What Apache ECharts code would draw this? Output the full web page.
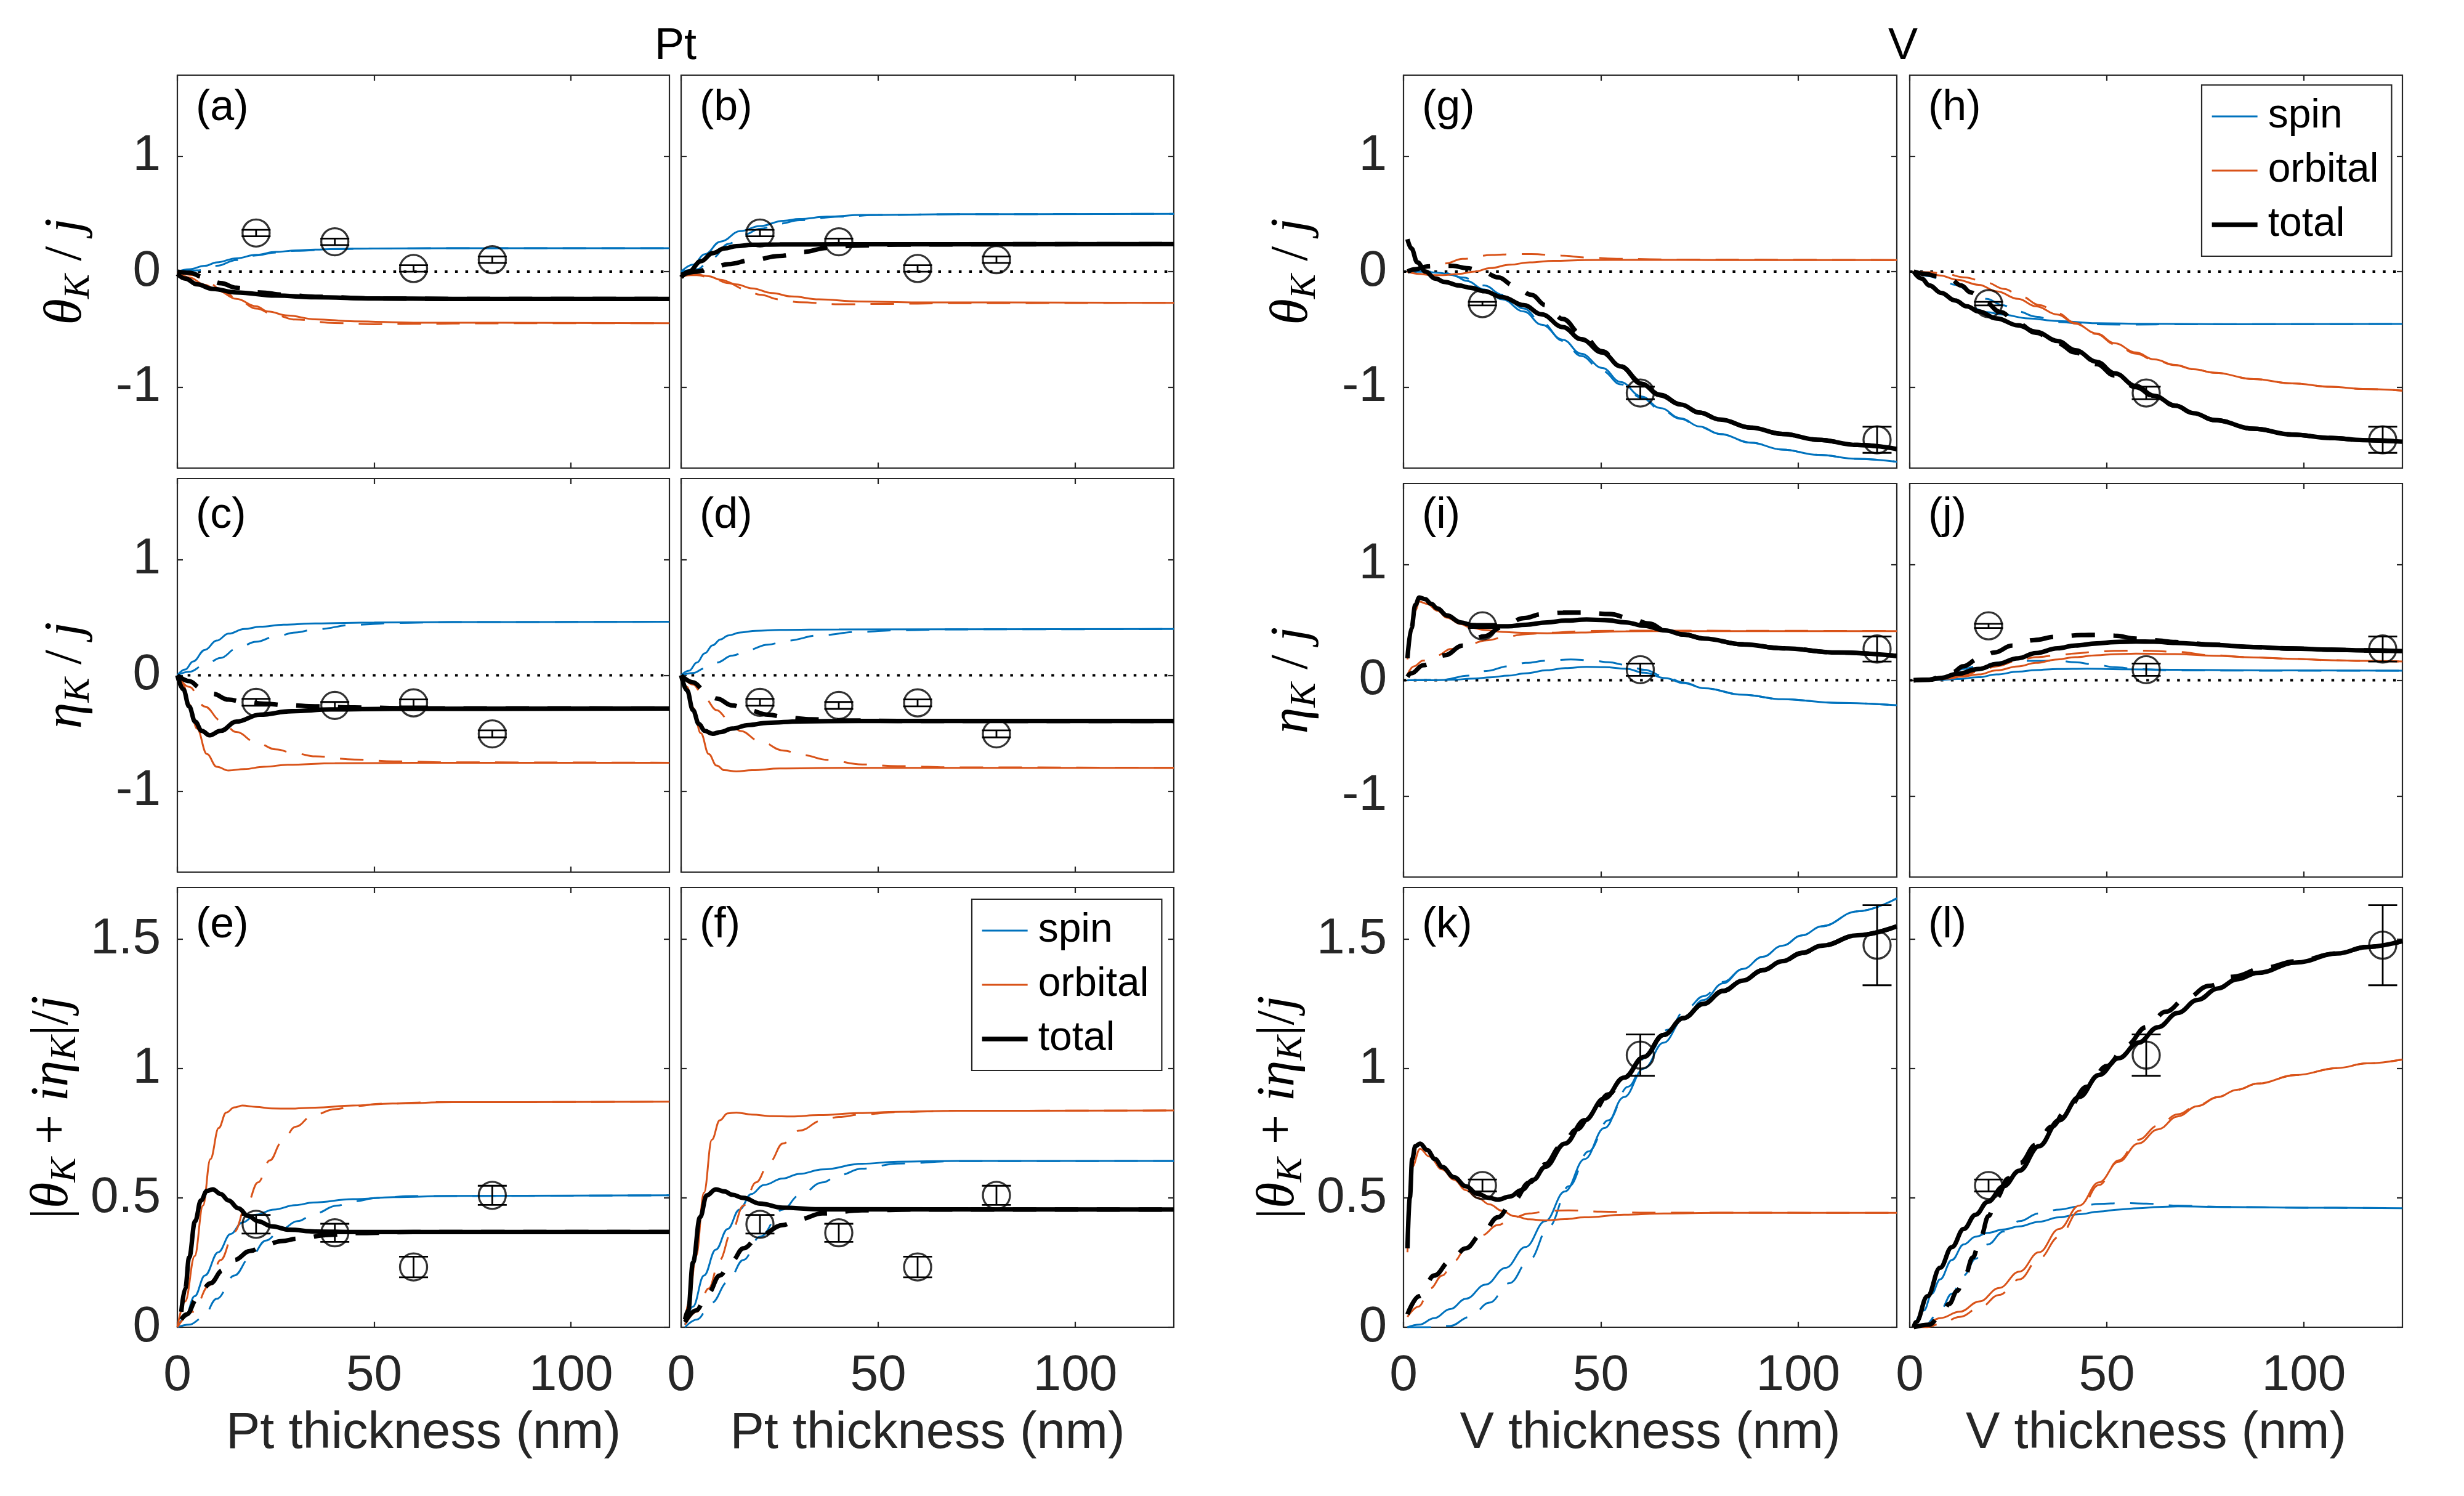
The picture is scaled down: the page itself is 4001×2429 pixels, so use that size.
<!DOCTYPE html>
<html><head><meta charset="utf-8">
<script src="https://cdn.jsdelivr.net/npm/echarts@6/dist/echarts.min.js"></script>
<style>html,body{margin:0;padding:0;background:#fff}#c{width:4001px;height:2429px}</style>
</head><body><div id="c"></div>
<script>
// ---------------- tick labels / axis ranges ----------------
const xTicks = [0, 50, 100];
const ySignedTicks = [-1, 0, 1];
const yAbsTicks = [0, 0.5, 1, 1.5];
const zeroLine = [[0, 0], [125, 0]];

// ---------------- measured data (circles with error bars) ----------------
const ptX = [20, 40, 60, 80];
const ptTheta = [0.334, 0.258, 0.027, 0.103];
const ptThetaErr = [0.028, 0.028, 0.028, 0.028];
const ptEta = [-0.233, -0.26, -0.238, -0.506];
const ptEtaErr = [0.03, 0.03, 0.03, 0.03];
const ptAbs = [0.398, 0.365, 0.233, 0.51];
const ptAbsErr = [0.036, 0.035, 0.04, 0.037];
const vX = [20, 60, 120];
const vTheta = [-0.277, -1.05, -1.455];
const vThetaErr = [0.015, 0.054, 0.113];
const vEta = [0.47, 0.091, 0.27];
const vEtaErr = [0.018, 0.053, 0.108];
const vAbs = [0.548, 1.052, 1.477];
const vAbsErr = [0.023, 0.08, 0.155];

// ---------------- model curves ----------------
// (a)
const a_spin = [[0,0],[3,0.02],[7,0.05],[10,0.08],[15,0.115],[20,0.145],[25,0.17],[30,0.183],[35,0.19],[40,0.196],[50,0.2],[70,0.202],[125,0.202]];
const a_spinD = [[0,0],[5,0.01],[10,0.05],[15,0.1],[20,0.14],[25,0.165],[30,0.18],[40,0.195],[50,0.2],[70,0.203],[125,0.202]];
const a_orb = [[0,0],[3,-0.05],[7,-0.114],[10,-0.16],[15,-0.236],[20,-0.3],[23,-0.345],[28,-0.38],[35,-0.413],[45,-0.43],[60,-0.442],[125,-0.446]];
const a_orbD = [[0,0],[4,-0.03],[8,-0.1],[12,-0.18],[16,-0.26],[20,-0.32],[25,-0.38],[30,-0.415],[40,-0.445],[50,-0.455],[60,-0.452],[80,-0.447],[125,-0.446]];
const a_tot = [[0,-0.02],[2,-0.06],[5,-0.11],[9,-0.15],[15,-0.18],[25,-0.207],[35,-0.222],[50,-0.232],[70,-0.236],[125,-0.237]];
const a_totD = [[0,0],[3,-0.01],[7,-0.05],[11,-0.1],[15,-0.14],[21,-0.18],[27,-0.2],[35,-0.218],[50,-0.232],[70,-0.236],[125,-0.237]];
// (b)
const b_spin = [[0,0],[3,0.06],[6,0.15],[10,0.26],[15,0.35],[20,0.394],[26,0.44],[30,0.455],[37,0.475],[46,0.49],[70,0.497],[125,0.5]];
const b_spinD = [[0,0],[4,0.02],[8,0.12],[12,0.24],[16,0.32],[20,0.37],[25,0.415],[30,0.445],[40,0.475],[50,0.49],[70,0.497],[125,0.5]];
const b_orb = [[0,-0.05],[2,-0.03],[4,-0.025],[7,-0.04],[10,-0.07],[14,-0.11],[18,-0.145],[23,-0.185],[28,-0.215],[35,-0.24],[45,-0.258],[60,-0.266],[125,-0.27]];
const b_orbD = [[0,-0.03],[4,-0.03],[8,-0.06],[12,-0.1],[16,-0.15],[20,-0.2],[25,-0.24],[30,-0.265],[40,-0.283],[50,-0.28],[70,-0.273],[125,-0.27]];
const b_tot = [[0,-0.05],[2,0.0],[5,0.09],[8,0.16],[11,0.2],[14,0.22],[18,0.232],[25,0.235],[40,0.236],[125,0.238]];
const b_totD = [[0,-0.03],[4,0.0],[8,0.035],[12,0.065],[18,0.1],[25,0.135],[31,0.17],[37,0.205],[44,0.225],[55,0.234],[80,0.237],[125,0.238]];
// (c)
const c_spin = [[0,0],[2,0.05],[4,0.12],[7,0.22],[10,0.3],[13,0.36],[17,0.4],[21,0.42],[27,0.437],[35,0.448],[50,0.456],[70,0.46],[125,0.463]];
const c_spinD = [[0,0],[3,0.03],[7,0.09],[11,0.15],[15,0.23],[20,0.29],[25,0.337],[30,0.37],[35,0.397],[45,0.437],[55,0.452],[70,0.46],[125,0.463]];
const c_orb = [[0,0],[1.5,-0.08],[3,-0.25],[5,-0.46],[7.5,-0.68],[10,-0.79],[13,-0.822],[17,-0.81],[22,-0.79],[28,-0.773],[40,-0.76],[60,-0.756],[125,-0.755]];
const c_orbD = [[0,0],[3,-0.1],[7,-0.27],[11,-0.39],[15,-0.49],[20,-0.58],[25,-0.64],[30,-0.675],[35,-0.7],[45,-0.727],[55,-0.743],[70,-0.752],[125,-0.755]];
const c_tot = [[0,0],[1.5,-0.12],[3,-0.27],[4.5,-0.4],[6.2,-0.48],[8.2,-0.518],[11,-0.48],[15,-0.4],[21,-0.34],[29,-0.31],[39,-0.295],[55,-0.289],[125,-0.287]];
const c_totD = [[0,0],[3,-0.05],[6,-0.11],[9,-0.16],[13,-0.21],[17,-0.23],[22,-0.245],[28,-0.258],[35,-0.268],[45,-0.278],[60,-0.285],[125,-0.287]];
// (d)
const d_spin = [[0,0],[2,0.04],[4,0.11],[6,0.19],[8,0.26],[10,0.31],[12,0.345],[15,0.37],[19,0.385],[25,0.392],[40,0.397],[125,0.4]];
const d_spinD = [[0,0],[3,0.02],[6,0.06],[9,0.11],[13,0.17],[17,0.22],[22,0.265],[27,0.3],[35,0.345],[45,0.375],[55,0.39],[70,0.397],[125,0.4]];
const d_orb = [[0,0],[1.5,-0.1],[3,-0.28],[5,-0.5],[7,-0.68],[9,-0.78],[11,-0.82],[14,-0.83],[18,-0.82],[25,-0.805],[40,-0.8],[125,-0.8]];
const d_orbD = [[0,0],[3,-0.08],[6,-0.2],[9,-0.3],[12,-0.38],[15,-0.48],[20,-0.57],[26,-0.65],[31,-0.69],[37,-0.73],[46,-0.77],[55,-0.785],[70,-0.795],[125,-0.8]];
const d_tot = [[0,0],[1.5,-0.13],[3,-0.3],[4.5,-0.42],[6,-0.48],[8,-0.505],[10,-0.49],[13,-0.46],[17,-0.43],[22,-0.41],[30,-0.398],[45,-0.394],[125,-0.394]];
const d_totD = [[0,0],[3,-0.06],[6,-0.13],[9,-0.2],[13,-0.26],[17,-0.3],[22,-0.34],[27,-0.365],[33,-0.38],[40,-0.39],[55,-0.394],[125,-0.394]];
// (e)
const e_spin = [[0,0],[2,0.04],[4.4,0.12],[7,0.2],[10.4,0.29],[13.5,0.36],[16.5,0.405],[20,0.435],[24.5,0.455],[30,0.472],[34.5,0.482],[44.6,0.495],[55,0.503],[70,0.508],[125,0.51]];
const e_spinD = [[0,0],[3,0.01],[6.4,0.035],[10,0.11],[14.5,0.2],[18.5,0.27],[22.5,0.335],[26.5,0.38],[30.5,0.41],[35,0.44],[40.5,0.47],[45,0.487],[50.6,0.5],[60,0.507],[125,0.51]];
const e_orb = [[0,0],[2,0.1],[4.4,0.275],[6.5,0.47],[8.4,0.65],[10.5,0.77],[12.4,0.83],[14.5,0.85],[16.5,0.857],[20,0.852],[24,0.846],[28.5,0.845],[35,0.849],[44.6,0.857],[54.6,0.865],[70,0.87],[125,0.872]];
const e_orbD = [[0,0],[4,0.06],[8,0.16],[11,0.26],[14.5,0.37],[17.5,0.47],[20.5,0.56],[23.5,0.645],[26.5,0.715],[30,0.775],[34.5,0.82],[40,0.843],[45,0.855],[52,0.864],[65,0.87],[125,0.872]];
const e_tot = [[1,0.06],[2,0.15],[3,0.27],[4.5,0.41],[6,0.49],[7.5,0.527],[9,0.533],[11,0.515],[13,0.49],[15.5,0.46],[18,0.43],[20.5,0.41],[24,0.39],[28.5,0.377],[35,0.37],[45,0.368],[125,0.368]];
const e_totD = [[1,0.03],[2.4,0.05],[5,0.11],[8.4,0.17],[11.5,0.22],[14.5,0.26],[18.5,0.295],[22.5,0.32],[26.5,0.333],[30.5,0.342],[38.5,0.357],[45,0.364],[60,0.368],[125,0.368]];
// (f)
const f_spin = [[1,0.01],[3,0.08],[5.8,0.2],[8.8,0.3],[11.8,0.38],[14.8,0.455],[17.8,0.515],[21,0.55],[25.8,0.575],[30,0.593],[35.9,0.61],[45.9,0.632],[55,0.64],[70,0.643],[125,0.643]];
const f_spinD = [[1,0],[4,0.03],[7.8,0.095],[11.8,0.175],[15.8,0.26],[20,0.35],[25.8,0.455],[30,0.51],[35.9,0.56],[40,0.588],[45.9,0.613],[55,0.633],[70,0.642],[125,0.643]];
const f_orb = [[1,0.02],[2,0.1],[3.8,0.275],[5.8,0.52],[7.8,0.725],[9.8,0.8],[11.8,0.827],[14,0.83],[18,0.822],[23,0.816],[28,0.815],[35,0.82],[45,0.828],[55,0.833],[70,0.837],[125,0.838]];
const f_orbD = [[1,0.01],[4,0.06],[7,0.15],[9.8,0.26],[12.8,0.37],[15.8,0.47],[19,0.56],[22.5,0.64],[25.8,0.71],[30,0.76],[35.9,0.8],[40,0.813],[45.9,0.823],[55,0.832],[70,0.837],[125,0.838]];
const f_tot = [[1,0.03],[1.8,0.065],[3,0.25],[4.8,0.425],[6.5,0.51],[8.8,0.533],[11,0.525],[13,0.512],[15.8,0.5],[20,0.478],[25.8,0.462],[35,0.456],[125,0.455]];
const f_totD = [[1,0.02],[3.8,0.065],[6.8,0.13],[9.8,0.2],[12.8,0.255],[15.8,0.305],[20,0.355],[25.8,0.395],[30,0.418],[35.9,0.44],[45.9,0.452],[60,0.455],[125,0.455]];
// (g)
const g_spin = [[1,0],[5,0],[9,-0.01],[12.5,-0.03],[16,-0.08],[20.5,-0.155],[25,-0.24],[30.5,-0.345],[35,-0.46],[40.4,-0.59],[45,-0.71],[50.4,-0.834],[55,-0.955],[60.3,-1.08],[65,-1.18],[70.3,-1.27],[75,-1.34],[80.2,-1.405],[88,-1.48],[96,-1.54],[105,-1.585],[115,-1.62],[125,-1.645]];
const g_spinD = [[1,0],[6,0],[10,-0.01],[15,-0.05],[20.5,-0.12],[25,-0.2],[30.5,-0.32],[35,-0.44],[40.4,-0.6],[45,-0.73],[50.4,-0.86],[55,-0.975],[60.3,-1.09],[65,-1.19],[70.3,-1.275],[75,-1.345],[80.2,-1.405],[88,-1.48],[96,-1.54],[105,-1.585],[115,-1.62],[125,-1.645]];
const g_orb = [[1,0],[4,-0.02],[7,-0.03],[10,-0.03],[14,-0.02],[18,0],[22,0.03],[27,0.06],[32,0.08],[38,0.093],[46,0.1],[60,0.102],[80,0.1],[125,0.1]];
const g_orbD = [[1,0],[4,0.02],[7,0.045],[10.5,0.07],[15,0.11],[22.5,0.144],[28,0.152],[32.4,0.152],[40,0.138],[46,0.122],[55,0.11],[70,0.104],[125,0.1]];
const g_tot = [[1,0.28],[2,0.2],[3.5,0.08],[5.6,0],[8,-0.06],[10.5,-0.09],[14,-0.12],[17,-0.14],[20.5,-0.17],[25,-0.22],[30.5,-0.29],[35,-0.37],[40.4,-0.48],[45,-0.585],[50.4,-0.7],[55,-0.82],[60.3,-0.97],[65,-1.07],[70.3,-1.15],[75,-1.22],[80.2,-1.28],[88,-1.35],[96.1,-1.405],[105,-1.455],[115,-1.5],[125,-1.535]];
const g_totD = [[1,0],[3,0.02],[6,0.045],[9,0.05],[12.5,0.05],[16,0.03],[20,0.0],[24,-0.05],[28,-0.12],[32.4,-0.2],[36,-0.29],[40.4,-0.41],[45,-0.54],[50.4,-0.69],[55,-0.82],[60.3,-0.96],[65,-1.065],[70.3,-1.15],[75,-1.22],[80.2,-1.28],[88,-1.35],[96.1,-1.405],[105,-1.455],[115,-1.5],[125,-1.535]];
// (h)
const h_spin = [[1,0],[3,-0.06],[5,-0.12],[7.6,-0.18],[10,-0.23],[12.5,-0.27],[15.5,-0.31],[19.5,-0.35],[23.5,-0.372],[30,-0.405],[37.5,-0.427],[47.4,-0.446],[60,-0.452],[80,-0.455],[125,-0.453]];
const h_spinD = [[1,0],[5,-0.04],[8,-0.07],[11.5,-0.114],[15.5,-0.17],[19.5,-0.236],[23.5,-0.29],[27.5,-0.345],[32,-0.39],[37.5,-0.435],[45,-0.455],[55,-0.458],[70,-0.455],[125,-0.453]];
const h_orb = [[1,0],[4,-0.01],[7.6,-0.033],[12,-0.07],[17.5,-0.114],[22,-0.17],[27.5,-0.236],[32,-0.3],[37.5,-0.372],[42,-0.45],[47.4,-0.535],[52,-0.62],[57.4,-0.7],[62,-0.76],[67.4,-0.807],[72,-0.845],[77.4,-0.875],[87.3,-0.93],[97,-0.967],[107,-0.997],[115,-1.015],[125,-1.03]];
const h_orbD = [[1,0],[5,-0.005],[9,-0.02],[14,-0.05],[19.5,-0.095],[24,-0.15],[28,-0.21],[33,-0.29],[37.5,-0.36],[42,-0.445],[47.4,-0.54],[52,-0.63],[57.4,-0.71],[62,-0.765],[67.4,-0.81],[72,-0.845],[77.4,-0.875],[87.3,-0.93],[97,-0.967],[107,-0.997],[115,-1.015],[125,-1.03]];
const h_tot = [[1,0],[3,-0.06],[5,-0.12],[8,-0.185],[11.5,-0.25],[14.5,-0.3],[17.5,-0.345],[22,-0.405],[27.5,-0.465],[32,-0.52],[37.5,-0.6],[42,-0.68],[47.4,-0.78],[52,-0.88],[57.4,-0.99],[62,-1.075],[67.4,-1.16],[72,-1.225],[77.4,-1.285],[87.3,-1.36],[97,-1.41],[107,-1.44],[115,-1.458],[125,-1.472]];
const h_totD = [[1,0],[4,-0.02],[7,-0.04],[10.5,-0.07],[13,-0.12],[15.5,-0.18],[19,-0.26],[23,-0.35],[27.5,-0.45],[32,-0.53],[37.5,-0.62],[42,-0.7],[47.4,-0.8],[52,-0.9],[57.4,-1.0],[62,-1.08],[67.4,-1.16],[72,-1.225],[77.4,-1.285],[87.3,-1.36],[97,-1.41],[107,-1.44],[115,-1.458],[125,-1.472]];
// (i)
const i_spin = [[1,0],[8,0],[12.5,0.005],[18,0.015],[22,0.025],[26.5,0.04],[31,0.06],[36.4,0.086],[41,0.105],[46.4,0.116],[51,0.113],[56.3,0.1],[61,0.065],[66.3,0.018],[71,-0.025],[76.2,-0.069],[86,-0.125],[96.1,-0.164],[110,-0.195],[125,-0.216]];
const i_spinD = [[1,0],[10,0.005],[16.5,0.04],[21,0.08],[26.5,0.12],[31,0.15],[36.4,0.17],[42.4,0.18],[48,0.17],[52,0.155],[56.3,0.133],[61,0.09],[66,0.035],[71,-0.02],[76.2,-0.069],[86,-0.125],[96.1,-0.164],[110,-0.195],[125,-0.216]];
const i_orb = [[1,0.18],[2,0.42],[3,0.6],[4,0.68],[6,0.66],[8.6,0.6],[11,0.54],[14.5,0.485],[17,0.455],[20.5,0.435],[25,0.418],[30,0.41],[36.4,0.406],[45,0.413],[56.3,0.423],[70,0.425],[125,0.425]];
const i_orbD = [[1,0.05],[2.6,0.12],[5,0.17],[8.6,0.216],[12,0.27],[16.5,0.31],[21,0.345],[26.5,0.38],[31,0.398],[36.4,0.41],[46.4,0.425],[60,0.428],[125,0.425]];
const i_tot = [[1,0.19],[2,0.45],[3,0.65],[4,0.715],[5.5,0.7],[7,0.66],[8.6,0.62],[11,0.56],[14.5,0.5],[17.5,0.475],[20.5,0.466],[26.5,0.466],[31,0.48],[36.4,0.5],[41,0.515],[46.4,0.525],[51,0.52],[56.3,0.5],[61,0.47],[66.3,0.43],[71,0.395],[76.2,0.36],[86,0.31],[96.1,0.276],[110,0.24],[125,0.21]];
const i_totD = [[1,0.03],[2,0.06],[5,0.13],[10.5,0.216],[15,0.3],[20.5,0.38],[25,0.46],[30.5,0.537],[35,0.57],[40.4,0.584],[46,0.585],[52.3,0.572],[57,0.54],[62.3,0.49],[66.3,0.43],[71,0.395],[76.2,0.36],[86,0.31],[96.1,0.276],[110,0.24],[125,0.21]];
// (j)
const j_spin = [[1,0],[7.6,0.002],[12,0.01],[17.5,0.026],[22,0.05],[27.5,0.074],[32,0.088],[37.5,0.097],[45,0.1],[55,0.095],[67.4,0.09],[90,0.085],[125,0.083]];
const j_spinD = [[1,0],[7,0.01],[10,0.04],[13.5,0.097],[18,0.13],[23.5,0.157],[30,0.167],[37.5,0.169],[42,0.155],[47.4,0.133],[52,0.113],[57.4,0.097],[67.4,0.085],[90,0.083],[125,0.083]];
const j_orb = [[1,0],[6,0.003],[10,0.015],[13,0.03],[17.5,0.05],[22,0.085],[27.5,0.12],[32,0.15],[37.5,0.18],[42,0.2],[47.4,0.216],[52,0.225],[57.4,0.23],[67.4,0.226],[77,0.212],[87.3,0.197],[97,0.185],[107,0.173],[115,0.167],[125,0.162]];
const j_orbD = [[1,0],[6,0.005],[10,0.02],[13,0.04],[17.5,0.074],[22,0.12],[27.5,0.17],[32,0.2],[37.5,0.216],[42,0.232],[47.4,0.247],[52,0.254],[57.4,0.257],[62,0.253],[67.4,0.245],[77,0.215],[87.3,0.197],[97,0.185],[107,0.173],[115,0.167],[125,0.162]];
const j_tot = [[1,0],[5,0.005],[8,0.02],[12,0.055],[17.5,0.097],[22,0.14],[27.5,0.19],[32,0.235],[37.5,0.276],[42,0.3],[47.4,0.318],[52,0.33],[57.4,0.335],[62,0.333],[67.4,0.323],[77,0.305],[87.3,0.287],[97,0.274],[107,0.264],[115,0.258],[125,0.252]];
const j_totD = [[1,0],[5,0.005],[8,0.03],[11,0.07],[13.5,0.12],[17.5,0.185],[21.5,0.24],[26,0.3],[31.5,0.347],[37,0.375],[43.5,0.39],[47.4,0.392],[52,0.385],[57.4,0.36],[62,0.345],[67.4,0.33],[77,0.308],[87.3,0.287],[97,0.274],[107,0.264],[115,0.258],[125,0.252]];
// (k)
const k_spin = [[1,0],[4,0.01],[7.8,0.035],[11.8,0.07],[15.8,0.11],[20.8,0.165],[25.9,0.23],[30.9,0.31],[35.9,0.41],[40.9,0.525],[45.9,0.65],[50.9,0.77],[55.9,0.89],[60.9,1.0],[65.9,1.1],[70.9,1.19],[76,1.265],[81,1.33],[86,1.385],[91,1.432],[96,1.475],[101,1.515],[106,1.55],[115,1.608],[125,1.658]];
const k_spinD = [[1,0],[6,0.0],[11.8,0.005],[16.8,0.04],[21.8,0.095],[26.8,0.17],[31.9,0.26],[36.9,0.39],[41.9,0.545],[46.9,0.68],[51.9,0.8],[56.9,0.93],[61.9,1.055],[66.9,1.15],[71.9,1.235],[76,1.28],[81,1.335],[86,1.385],[91,1.432],[96,1.475],[101,1.515],[106,1.55],[115,1.608],[125,1.658]];
const k_orb = [[1,0.29],[2.2,0.62],[4.2,0.69],[6.5,0.66],[9.8,0.61],[12.8,0.57],[15.8,0.53],[18.8,0.5],[21.8,0.475],[25,0.45],[28,0.43],[31.9,0.417],[35.9,0.413],[40.9,0.418],[45.9,0.425],[55.9,0.435],[66,0.44],[80,0.442],[125,0.442]];
const k_orbD = [[1,0.04],[3.8,0.08],[6.8,0.15],[9.8,0.2],[12.8,0.255],[15.8,0.305],[19.8,0.355],[23.9,0.395],[27.9,0.425],[31.9,0.44],[36.9,0.45],[41.9,0.452],[50,0.447],[60,0.443],[125,0.442]];
const k_tot = [[1,0.305],[1.6,0.5],[2.2,0.65],[3,0.7],[4.2,0.71],[6,0.685],[8,0.65],[9.8,0.62],[12.8,0.58],[15.8,0.545],[18.8,0.515],[21.8,0.5],[23.9,0.493],[26.9,0.505],[29.9,0.53],[32.9,0.57],[35.9,0.62],[40.9,0.71],[45.9,0.8],[50.9,0.885],[55.9,0.965],[60.9,1.045],[65.9,1.13],[70.9,1.195],[76,1.25],[81,1.3],[86,1.34],[91,1.38],[96,1.415],[101,1.447],[106,1.475],[115,1.515],[125,1.55]];
const k_totD = [[1,0.05],[4,0.12],[7.8,0.2],[11.8,0.255],[15.8,0.305],[19.8,0.36],[23.9,0.425],[27.9,0.49],[31.9,0.56],[35.9,0.63],[39.9,0.7],[43.9,0.765],[47.9,0.83],[51.9,0.9],[55.9,0.965],[60.9,1.045],[65.9,1.13],[70.9,1.195],[76,1.25],[81,1.3],[86,1.34],[91,1.38],[96,1.415],[101,1.447],[106,1.475],[115,1.515],[125,1.55]];
// (l)
const l_spin = [[1,0],[3.6,0.065],[5.6,0.13],[7.7,0.185],[10.7,0.26],[13.7,0.32],[16.7,0.35],[19.8,0.365],[23.8,0.378],[27.8,0.39],[32.8,0.408],[37.9,0.425],[43,0.437],[48,0.447],[53,0.455],[58,0.46],[63,0.465],[68,0.467],[80,0.465],[100,0.462],[125,0.46]];
const l_spinD = [[1,0],[4,0.01],[7.7,0.065],[10.7,0.13],[13.7,0.2],[16.7,0.265],[19.8,0.32],[23.8,0.37],[27.8,0.41],[32.8,0.44],[37.9,0.455],[43,0.467],[48,0.477],[54,0.48],[60,0.478],[68,0.47],[80,0.465],[100,0.462],[125,0.46]];
const l_orb = [[1,0],[4,0.012],[7.7,0.035],[12.7,0.06],[17.7,0.1],[22.7,0.152],[27.8,0.215],[32.8,0.29],[37.9,0.38],[43,0.47],[48,0.56],[53,0.64],[58,0.71],[63,0.765],[68,0.815],[73,0.855],[78.2,0.89],[83,0.918],[88.3,0.942],[98,0.975],[108.5,1.002],[116,1.02],[125,1.035]];
const l_orbD = [[1,0],[4,0.0],[7.7,0.012],[12.7,0.04],[17.7,0.075],[22.7,0.125],[27.8,0.185],[32.8,0.265],[37.9,0.35],[43,0.45],[48,0.55],[53,0.645],[58,0.725],[63,0.78],[68,0.823],[73,0.858],[78.2,0.89],[83,0.918],[88.3,0.942],[98,0.975],[108.5,1.002],[116,1.02],[125,1.035]];
const l_tot = [[1,0],[1.6,0.02],[4.5,0.12],[7.7,0.23],[10.7,0.31],[13.7,0.38],[16.7,0.435],[19.8,0.485],[23.8,0.545],[27.8,0.605],[32.8,0.7],[37.9,0.8],[43,0.89],[48,0.975],[53,1.04],[58,1.1],[63,1.16],[68,1.215],[73,1.265],[78.2,1.31],[83,1.345],[88.3,1.37],[98,1.41],[108.5,1.445],[116,1.47],[125,1.493]];
const l_totD = [[1,0],[5,0.01],[8,0.05],[10,0.09],[12,0.14],[14,0.2],[16,0.27],[18,0.35],[20,0.43],[22,0.5],[25,0.575],[28,0.635],[32,0.705],[36,0.775],[40,0.845],[45,0.93],[50,1.01],[55,1.09],[60,1.16],[65,1.22],[70,1.27],[76,1.32],[82,1.355],[90,1.39],[98,1.415],[108.5,1.445],[116,1.47],[125,1.493]];

// ---------------- text ----------------
const panelTags = ['(a)','(b)','(c)','(d)','(e)','(f)','(g)','(h)','(i)','(j)','(k)','(l)'];
const groupTitles = ['Pt', 'V'];
const xNames = ['Pt thickness (nm)', 'V thickness (nm)'];
const legendNames = ['spin', 'orbital', 'total'];

// ---------------- layout (pixels) ----------------
const colX = [[288,1087],[1106,1906],[2279,3080],[3101,3901]];
const rowYLeft = [[122,760],[777,1416],[1441,2155]];
const rowYRight = [[122,760],[785,1424],[1441,2155]];
const tagY = [176, 838, 1503];
const FONT = "'Liberation Sans', Arial, Helvetica, sans-serif";
const SERIF = "'Liberation Serif', 'DejaVu Serif', serif";
const AX = '#262626';
const C_SPIN = '#0072BD', C_ORB = '#D95319', C_TOT = '#000000';

// panel table built from the arrays above
const panels = [
  {col:0,row:0,c:[a_spin,a_spinD,a_orb,a_orbD,a_tot,a_totD],px:ptX,py:ptTheta,pe:ptThetaErr},
  {col:1,row:0,c:[b_spin,b_spinD,b_orb,b_orbD,b_tot,b_totD],px:ptX,py:ptTheta,pe:ptThetaErr},
  {col:0,row:1,c:[c_spin,c_spinD,c_orb,c_orbD,c_tot,c_totD],px:ptX,py:ptEta,pe:ptEtaErr},
  {col:1,row:1,c:[d_spin,d_spinD,d_orb,d_orbD,d_tot,d_totD],px:ptX,py:ptEta,pe:ptEtaErr},
  {col:0,row:2,c:[e_spin,e_spinD,e_orb,e_orbD,e_tot,e_totD],px:ptX,py:ptAbs,pe:ptAbsErr},
  {col:1,row:2,c:[f_spin,f_spinD,f_orb,f_orbD,f_tot,f_totD],px:ptX,py:ptAbs,pe:ptAbsErr},
  {col:2,row:0,c:[g_spin,g_spinD,g_orb,g_orbD,g_tot,g_totD],px:vX,py:vTheta,pe:vThetaErr},
  {col:3,row:0,c:[h_spin,h_spinD,h_orb,h_orbD,h_tot,h_totD],px:vX,py:vTheta,pe:vThetaErr},
  {col:2,row:1,c:[i_spin,i_spinD,i_orb,i_orbD,i_tot,i_totD],px:vX,py:vEta,pe:vEtaErr},
  {col:3,row:1,c:[j_spin,j_spinD,j_orb,j_orbD,j_tot,j_totD],px:vX,py:vEta,pe:vEtaErr},
  {col:2,row:2,c:[k_spin,k_spinD,k_orb,k_orbD,k_tot,k_totD],px:vX,py:vAbs,pe:vAbsErr},
  {col:3,row:2,c:[l_spin,l_spinD,l_orb,l_orbD,l_tot,l_totD],px:vX,py:vAbs,pe:vAbsErr}
];

const iStyle = {fontFamily:SERIF, fontStyle:'italic', fontSize:86, lineHeight:100, color:'#000'};
const rStyle = {fontFamily:SERIF, fontSize:86, lineHeight:100, color:'#000'};
const sStyle = {fontFamily:SERIF, fontStyle:'italic', fontSize:60, lineHeight:60, verticalAlign:'bottom', color:'#000'};
const yNames = [
  '{i|θ}{s|K}{r| / }{i|j}',
  '{i|η}{s|K}{r| / }{i|j}',
  '{r||}{i|θ}{s|K}{r| + }{i|iη}{s|K}{r||/}{i|j}'
];

const grids = [], xAxes = [], yAxes = [], series = [], graphics = [];
panels.forEach((p, k) => {
  const rows = p.col >= 2 ? rowYRight : rowYLeft;
  const left = colX[p.col][0], right = colX[p.col][1];
  const top = rows[p.row][0], bottom = rows[p.row][1];
  grids.push({left, top, width:right-left, height:bottom-top, show:true, borderColor:AX, borderWidth:2.2,
              backgroundColor:'rgba(0,0,0,0)', containLabel:false, outerBoundsMode:'none'});
  const isAbs = p.row === 2;
  const showYLabel = p.col === 0 || p.col === 2;
  const tickStyle = {show:true, inside:true, length:9, lineStyle:{color:AX, width:2.2}};
  const noLine = {show:false, onZero:false};
  const xBase = {type:'value', gridIndex:k, min:0, max:125, axisLine:noLine, splitLine:{show:false}};
  xAxes.push(Object.assign({}, xBase, {
    position:'bottom',
    axisTick:Object.assign({customValues:xTicks}, tickStyle),
    axisLabel:{show:isAbs, customValues:xTicks, fontSize:82, fontFamily:FONT, color:AX, margin:38},
    name: isAbs ? xNames[p.col >= 2 ? 1 : 0] : '', nameLocation:'middle', nameGap:132, nameMoveOverlap:false,
    nameTextStyle:{fontSize:83, fontFamily:FONT, color:AX, lineHeight:83}
  }));
  xAxes.push(Object.assign({}, xBase, {position:'top', axisTick:Object.assign({customValues:xTicks}, tickStyle), axisLabel:{show:false}}));
  const yMin = isAbs ? 0 : -1.7, yMax = 1.7, yT = isAbs ? yAbsTicks : ySignedTicks;
  const yBase = {type:'value', gridIndex:k, min:yMin, max:yMax, axisLine:noLine, splitLine:{show:false}};
  yAxes.push(Object.assign({}, yBase, {
    position:'left',
    axisTick:Object.assign({customValues:yT}, tickStyle),
    axisLabel:{show:showYLabel, customValues:yT, fontSize:82, fontFamily:FONT, color:AX, margin:27},
    name: showYLabel ? yNames[p.row] : '', nameLocation:'middle', nameRotate:90, nameMoveOverlap:false,
    nameGap: isAbs ? 152 : 130,
    nameTextStyle:{rich:{i:iStyle, r:rStyle, s:sStyle}}
  }));
  yAxes.push(Object.assign({}, yBase, {position:'right', axisTick:Object.assign({customValues:yT}, tickStyle), axisLabel:{show:false}}));

  const ax = {xAxisIndex:2*k, yAxisIndex:2*k};
  if (!isAbs) {
    series.push(Object.assign({type:'line', name:'zero', data:zeroLine, symbol:'none', silent:true, z:1,
      lineStyle:{color:'#000', width:4, type:[4.5,12.2], cap:'butt'}}, ax));
  }
  const styles = [
    ['spin', C_SPIN, 3, 'solid'], ['spin dashed', C_SPIN, 3, [38,25]],
    ['orbital', C_ORB, 3, 'solid'], ['orbital dashed', C_ORB, 3, [38,25]],
    ['total', C_TOT, 7.3, 'solid'], ['total dashed', C_TOT, 7.3, [38,30]]
  ];
  const order = [1, 0, 3, 2, 5, 4];
  order.forEach(idx => {
    const st = styles[idx];
    series.push(Object.assign({type:'line', name:st[0], data:p.c[idx], symbol:'none', showSymbol:false,
      smooth:0.4, smoothMonotone:'x', silent:true, z:2, emphasis:{disabled:true},
      lineStyle:{color:st[1], width:st[2], type:st[3], cap:'butt'}, itemStyle:{color:st[1]}}, ax));
  });
  const pts = p.px.map((x, m) => [x, p.py[m], p.pe[m]]);
  series.push(Object.assign({type:'custom', name:'error', data:pts, z:3, silent:true,
    encode:{x:0, y:1},
    renderItem:(params, api) => {
      const x = api.value(0), y = api.value(1), e = api.value(2);
      const t = api.coord([x, y + e]), b = api.coord([x, y - e]);
      const hw = 23.5, st = {stroke:'#000', lineWidth:2.8};
      return {type:'group', children:[
        {type:'line', shape:{x1:t[0], y1:t[1], x2:b[0], y2:b[1]}, style:st},
        {type:'line', shape:{x1:t[0]-hw, y1:t[1], x2:t[0]+hw, y2:t[1]}, style:st},
        {type:'line', shape:{x1:b[0]-hw, y1:b[1], x2:b[0]+hw, y2:b[1]}, style:st}
      ]};
    }}, ax));
  series.push(Object.assign({type:'scatter', name:'data', data:pts.map(q => [q[0], q[1]]), symbol:'circle',
    symbolSize:44, z:4, silent:true,
    itemStyle:{color:'rgba(0,0,0,0)', borderColor:'#000', borderWidth:3.3}}, ax));

  const tagIndex = (p.col >= 2 ? 6 : 0) + p.row * 2 + (p.col % 2);
  graphics.push({type:'text', x:left+30, y:tagY[p.row],
    style:{text:panelTags[tagIndex], fontSize:70, fontFamily:FONT, fill:'#000', align:'left', verticalAlign:'middle'}});
});

graphics.push({type:'text', x:(colX[0][0]+colX[1][1])/2, y:76,
  style:{text:groupTitles[0], fontSize:72, fontFamily:FONT, fill:'#000', align:'center', verticalAlign:'middle'}});
graphics.push({type:'text', x:(colX[2][0]+colX[3][1])/2, y:76,
  style:{text:groupTitles[1], fontSize:72, fontFamily:FONT, fill:'#000', align:'center', verticalAlign:'middle'}});

const legendBase = {data:legendNames, orient:'vertical', itemWidth:74, itemHeight:2, itemGap:12,
  padding:[13,21,13,13], borderColor:AX, borderWidth:2.2, borderRadius:0, backgroundColor:'#fff',
  selectedMode:false, lineStyle:{width:'inherit'},
  textStyle:{fontSize:66, fontFamily:FONT, color:'#000', lineHeight:76, padding:[0,0,0,12]}};
const legends = [
  Object.assign({}, legendBase, {left:1578, top:1460}),
  Object.assign({}, legendBase, {left:3575, top:138})
];

const chart = echarts.init(document.getElementById('c'), null, {renderer:'canvas', width:4001, height:2429});
chart.setOption({
  animation:false,
  backgroundColor:'#fff',
  grid:grids, xAxis:xAxes, yAxis:yAxes, series, legend:legends, graphic:graphics
});
</script></body></html>
